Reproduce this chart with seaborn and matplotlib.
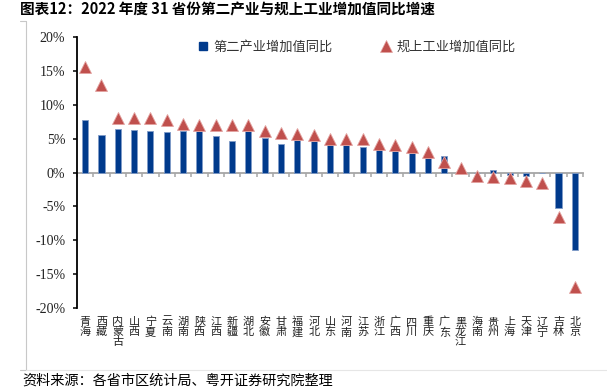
import numpy as np
import pandas as pd
import matplotlib
matplotlib.use("Agg")
import matplotlib.pyplot as plt
from matplotlib.lines import Line2D
from matplotlib.font_manager import FontProperties
import seaborn as sns

provinces = ["青海", "西藏", "内蒙古", "山西", "宁夏", "云南", "湖南", "陕西", "江西", "新疆",
             "湖北", "安徽", "甘肃", "福建", "河北", "山东", "河南", "江苏", "浙江", "广西",
             "四川", "重庆", "广东", "黑龙江", "海南", "贵州", "上海", "天津", "辽宁", "吉林", "北京"]
secondary_industry = [7.8, 5.5, 6.4, 6.2, 6.1, 6.0, 6.1, 6.1, 5.4, 4.7,
                      6.1, 5.1, 4.2, 4.8, 4.6, 4.2, 4.0, 3.7, 3.4, 3.1,
                      2.9, 2.2, 2.4, 0.0, -0.1, 0.4, -0.4, -0.5, 0.0, -5.2, -11.5]
industrial_above_scale = [15.5, 12.9, 8.0, 8.0, 8.0, 7.7, 7.1, 7.0, 7.0, 7.0,
                          7.0, 6.1, 5.9, 5.7, 5.5, 5.0, 5.0, 5.0, 4.2, 4.1,
                          3.7, 3.0, 1.5, 0.7, -0.55, -0.65, -0.8, -1.2, -1.6, -6.5, -16.9]
legend_labels = ["第二产业增加值同比", "规上工业增加值同比"]
yticks = [-20, -15, -10, -5, 0, 5, 10, 15, 20]
title = "图表12：2022 年度 31 省份第二产业与规上工业增加值同比增速"
source = "资料来源：各省市区统计局、粤开证券研究院整理"

sns.set_theme(style="white")
plt.rcParams["font.family"] = ["Noto Sans CJK SC", "DejaVu Sans"]
plt.rcParams["font.serif"] = ["Liberation Serif", "DejaVu Serif"]

BLUE = "#003A8C"
RED = "#C0504D"

df = pd.DataFrame({"province": provinces, "sec": secondary_industry, "ind": industrial_above_scale})
df["label"] = ["\n".join(list(p)) for p in df["province"]]

W, H = 607, 392
fig = plt.figure(figsize=(W / 100, H / 100), dpi=100)
ax = fig.add_axes([77 / W, 1 - 308 / H, 506 / W, 271 / H])

sns.barplot(data=df, x="label", y="sec", color=BLUE, width=0.37, ax=ax,
            saturation=1, edgecolor="#7F9BC8", linewidth=0.6, errorbar=None)
sns.pointplot(data=df, x="label", y="ind", color=RED, ax=ax, errorbar=None,
              linestyle="none", marker="^", markersize=8.4,
              markeredgecolor="#E3A3A1", markeredgewidth=0.6)

n = len(provinces)
ax.set_xlim(-0.5, n - 0.5)
ax.set_ylim(-20, 20)
ax.set_yticks(yticks)
serif_fp = FontProperties(family="serif", size=10)
ax.set_yticklabels([f"{v}%" for v in yticks], fontproperties=serif_fp, color="#222222")
ax.set_xlabel("")
ax.set_ylabel("")

for s in ["top", "right"]:
    ax.spines[s].set_visible(False)
ax.spines["left"].set_color("black")
ax.spines["left"].set_linewidth(1.3)
ax.spines["bottom"].set_position(("data", 0))
ax.spines["bottom"].set_color("#A6A6A6")
ax.spines["bottom"].set_linewidth(1.3)
ax.spines["bottom"].set_zorder(0.5)

ax.tick_params(axis="y", direction="out", length=3, width=1.1, color="black", pad=5.5, left=True)
ax.set_xticks(np.arange(n) * 1.0, minor=False)
ax.set_xticks(np.arange(n + 1) - 0.5, minor=True)
ax.tick_params(axis="x", which="major", length=0, pad=104, labelsize=8, labelcolor="#222222")
ax.tick_params(axis="x", which="minor", direction="out", length=3.2, width=1.1, color="#A6A6A6", bottom=True)
for lbl in ax.get_xticklabels():
    lbl.set_linespacing(1.0)
    lbl.set_verticalalignment("top")

handles = [Line2D([], [], marker="s", color=BLUE, linestyle="none", markersize=5.5),
           Line2D([], [], marker="^", color=RED, linestyle="none", markersize=8,
                  markeredgecolor="#E3A3A1", markeredgewidth=0.5)]
leg = ax.legend(handles, legend_labels, ncol=2, frameon=False, loc="upper left",
                bbox_to_anchor=((186 - 77) / 506, 1.03), fontsize=9.5,
                handlelength=0.8, handletextpad=0.4, columnspacing=3.6, labelcolor="#333333")

fig.text(20 / W, 1 - 10 / H, title, fontsize=10.5, fontweight="bold", va="center", ha="left",
         color="black")
fig.text(22 / W, 1 - 381 / H, source, fontsize=10.2, style="italic", va="center", ha="left",
         color="black")

# report frame lines
gray = "#C8C8C8"
fig.add_artist(Line2D([26 / W, 26 / W], [1 - 21 / H, 1 - 370 / H], color=gray, lw=0.8))
fig.add_artist(Line2D([20 / W, 26 / W], [1 - 21 / H, 1 - 21 / H], color=gray, lw=0.8))
fig.add_artist(Line2D([20 / W, 26 / W], [1 - 370 / H, 1 - 370 / H], color=gray, lw=0.8))
fig.add_artist(Line2D([26 / W, 1], [1 - 370 / H, 1 - 370 / H], color="#E6E6E6", lw=0.8))

fig.savefig("out.png", dpi=100)
